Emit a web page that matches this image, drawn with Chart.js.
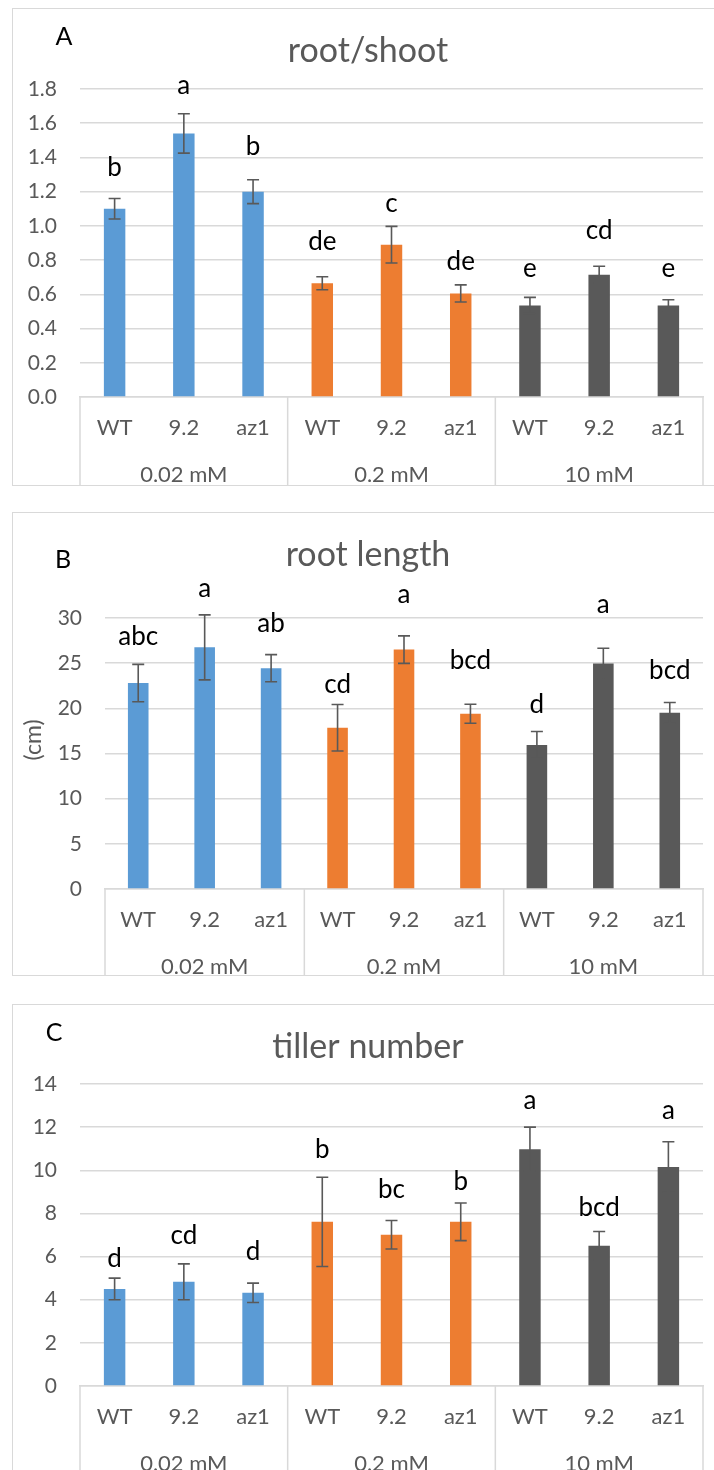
<!DOCTYPE html>
<html>
<head>
<meta charset="utf-8">
<script src="https://cdn.jsdelivr.net/npm/chart.js@4.4.1/dist/chart.umd.min.js"></script>
<style>
  html, body { margin: 0; padding: 0; background: #fff; width: 714px; height: 1470px; overflow: hidden; position: relative; }
  .panel { position: absolute; }
  .frame { position: absolute; border: 1px solid #d9d9d9; box-sizing: border-box; pointer-events: none; }
</style>
</head>
<body>
<div class="panel" style="left:12px;top:8px;width:712px;height:477px"><canvas id="chartA"></canvas></div>
<div class="frame" style="left:12px;top:8px;width:712px;height:478px"></div>
<div class="panel" style="left:12px;top:512px;width:712px;height:463px"><canvas id="chartB"></canvas></div>
<div class="frame" style="left:12px;top:512px;width:712px;height:464px"></div>
<div class="panel" style="left:12px;top:1004px;width:712px;height:480px"><canvas id="chartC"></canvas></div>
<div class="frame" style="left:12px;top:1004px;width:712px;height:481px"></div>
<script>
const strains = ["WT", "9.2", "az1"];
const doses = ["0.02 mM", "0.2 mM", "10 mM"];

const rootShootMean = [1.10, 1.54, 1.20, 0.665, 0.89, 0.605, 0.535, 0.715, 0.535];
const rootShootErr = [0.06, 0.115, 0.07, 0.038, 0.107, 0.05, 0.047, 0.049, 0.033];
const rootShootLetters = ["b", "a", "b", "de", "c", "de", "e", "cd", "e"];
const rootShootLetterAt = [1.29, 1.77, 1.415, 0.857, 1.082, 0.743, 0.704, 0.925, 0.704];
const rootShootTicks = [0.0, 0.2, 0.4, 0.6, 0.8, 1.0, 1.2, 1.4, 1.6, 1.8];

const rootLengthMean = [22.8, 26.75, 24.45, 17.85, 26.5, 19.4, 15.95, 24.95, 19.5];
const rootLengthErr = [2.07, 3.6, 1.5, 2.58, 1.52, 1.05, 1.48, 1.7, 1.15];
const rootLengthLetters = ["abc", "a", "ab", "cd", "a", "bcd", "d", "a", "bcd"];
const rootLengthLetterAt = [27.0, 32.3, 28.4, 21.7, 31.7, 24.3, 19.5, 30.6, 23.2];
const rootLengthTicks = [0, 5, 10, 15, 20, 25, 30];

const tillerMean = [4.5, 4.83, 4.32, 7.61, 7.01, 7.61, 10.98, 6.5, 10.15];
const tillerErr = [0.5, 0.83, 0.45, 2.07, 0.66, 0.87, 1.02, 0.66, 1.17];
const tillerLetters = ["d", "cd", "d", "b", "bc", "b", "a", "bcd", "a"];
const tillerLetterAt = [5.5, 6.57, 5.82, 10.57, 8.71, 9.1, 12.84, 7.89, 12.38];
const tillerTicks = [0, 2, 4, 6, 8, 10, 12, 14];

const groupColors = ["#5B9BD5", "#ED7D31", "#595959"];
const FONT = "Lato, 'Open Sans', sans-serif";
const GREY = "#595959";

const labels = doses.flatMap(() => strains);
const barColors = labels.map((_, i) => groupColors[Math.floor(i / strains.length)]);

// titles, letters, error bars and the two-level category axis
const decor = {
  id: "decor",
  afterDatasetsDraw(chart) {
    const ds = chart.data.datasets[0];
    const y = chart.scales.y;
    const ctx = chart.ctx;
    ctx.save();
    ctx.strokeStyle = GREY;
    ctx.lineWidth = 1.6;
    chart.getDatasetMeta(0).data.forEach((bar, i) => {
      const top = y.getPixelForValue(ds.data[i] + ds.errors[i]);
      const bot = y.getPixelForValue(ds.data[i] - ds.errors[i]);
      ctx.beginPath();
      ctx.moveTo(bar.x, top); ctx.lineTo(bar.x, bot);
      ctx.moveTo(bar.x - 6, top); ctx.lineTo(bar.x + 6, top);
      ctx.moveTo(bar.x - 6, bot); ctx.lineTo(bar.x + 6, bot);
      ctx.stroke();
    });
    ctx.fillStyle = "#000";
    ctx.font = `26px ${FONT}`;
    ctx.textAlign = "center";
    ctx.textBaseline = "alphabetic";
    chart.getDatasetMeta(0).data.forEach((bar, i) => {
      ctx.fillText(ds.letters[i], bar.x, y.getPixelForValue(ds.letterAt[i]));
    });
    ctx.restore();
  },
  afterDraw(chart, args, opts) {
    const ctx = chart.ctx;
    const x = chart.scales.x;
    const area = chart.chartArea;
    ctx.save();
    ctx.strokeStyle = "#d9d9d9";
    ctx.lineWidth = 1.5;
    for (let g = 0; g <= doses.length; g++) {
      const px = x.getPixelForValue(g * strains.length - 0.5);
      ctx.beginPath();
      ctx.moveTo(px, area.bottom);
      ctx.lineTo(px, chart.height);
      ctx.stroke();
    }
    ctx.fillStyle = GREY;
    ctx.font = `22px ${FONT}`;
    ctx.textAlign = "center";
    ctx.textBaseline = "alphabetic";
    doses.forEach((d, g) => {
      ctx.fillText(d, x.getPixelForValue(g * strains.length + 1), area.bottom + 85);
    });
    ctx.font = `34px ${FONT}`;
    ctx.fillText(opts.title, chart.width / 2, 54);
    ctx.fillStyle = "#000";
    ctx.font = `25px ${FONT}`;
    ctx.fillText(opts.tag, opts.tagX, opts.tagY);
    if (opts.yTitle) {
      ctx.fillStyle = GREY;
      ctx.font = `23px ${FONT}`;
      ctx.translate(22, 228);
      ctx.rotate(-Math.PI / 2);
      ctx.textBaseline = "middle";
      ctx.fillText(opts.yTitle, 0, 0);
    }
    ctx.restore();
  },
};

function makeChart(id, cfg) {
  const canvas = document.getElementById(id);
  const h = canvas.parentNode.clientHeight;
  return new Chart(canvas.getContext("2d"), {
    type: "bar",
    data: {
      labels,
      datasets: [{
        data: cfg.mean,
        errors: cfg.err,
        letters: cfg.letters,
        letterAt: cfg.letterAt,
        backgroundColor: barColors,
        borderWidth: 0,
        categoryPercentage: 1,
        barPercentage: 0.31,
      }],
    },
    options: {
      responsive: true,
      maintainAspectRatio: false,
      animation: false,
      events: [],
      layout: { padding: { top: cfg.plotTop, right: 21, left: 0, bottom: 0 } },
      plugins: {
        legend: { display: false },
        tooltip: { enabled: false },
        decor: { title: cfg.title, tag: cfg.tag, tagX: cfg.tagX, tagY: cfg.tagY, yTitle: cfg.yTitle },
      },
      scales: {
        x: {
          grid: { display: false, drawTicks: false },
          border: { display: true, color: "#d9d9d9", width: 1.5 },
          ticks: { color: GREY, font: { family: FONT, size: 22 }, padding: 18, maxRotation: 0, autoSkip: false },
          afterFit: (s) => { s.height = h - cfg.axisBottom; },
        },
        y: {
          min: cfg.ticks[0],
          max: cfg.ticks[cfg.ticks.length - 1],
          afterBuildTicks: (s) => { s.ticks = cfg.ticks.map((v) => ({ value: v })); },
          grid: { color: "#d9d9d9", lineWidth: 1.5, drawTicks: false },
          border: { display: false },
          ticks: {
            color: GREY,
            font: { family: FONT, size: 21 },
            padding: 23,
            callback: (v) => Number(v).toFixed(cfg.decimals),
          },
          afterFit: (s) => { s.width = cfg.plotLeft; },
        },
      },
    },
    plugins: [decor],
  });
}

makeChart("chartA", {
  mean: rootShootMean, err: rootShootErr, letters: rootShootLetters, letterAt: rootShootLetterAt,
  ticks: rootShootTicks, decimals: 1, title: "root/shoot", tag: "A", tagX: 52, tagY: 37,
  plotTop: 81, axisBottom: 389, plotLeft: 68,
});

makeChart("chartB", {
  mean: rootLengthMean, err: rootLengthErr, letters: rootLengthLetters, letterAt: rootLengthLetterAt,
  ticks: rootLengthTicks, decimals: 0, title: "root length", tag: "B", tagX: 51, tagY: 56, yTitle: "(cm)",
  plotTop: 106, axisBottom: 377, plotLeft: 93,
});

makeChart("chartC", {
  mean: tillerMean, err: tillerErr, letters: tillerLetters, letterAt: tillerLetterAt,
  ticks: tillerTicks, decimals: 0, title: "tiller number", tag: "C", tagX: 42, tagY: 37,
  plotTop: 80, axisBottom: 382, plotLeft: 68,
});
</script>
</body>
</html>
